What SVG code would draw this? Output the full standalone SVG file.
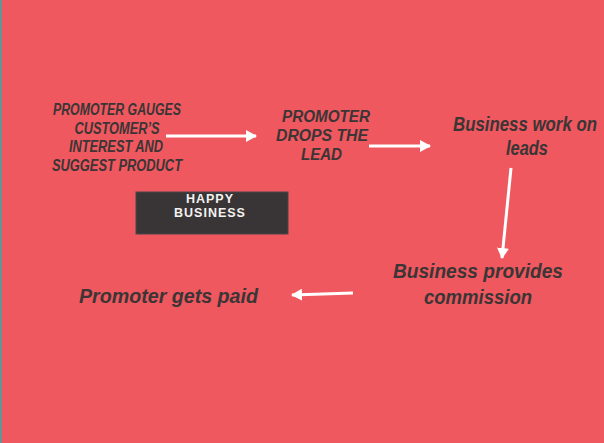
<svg xmlns="http://www.w3.org/2000/svg" width="604" height="443" viewBox="0 0 604 443">
<style>
.t{font-family:"Liberation Sans",Arial,sans-serif;font-weight:bold;font-style:italic;fill:#3b3536;text-anchor:middle}
.caps{font-size:16px}
.low{font-size:20px}
.a{stroke:#ffffff;stroke-width:3;fill:none}
.bx{font-family:"Liberation Sans",Arial,sans-serif;font-weight:bold;font-size:12.5px;fill:#f4f1f1;text-anchor:middle;letter-spacing:1px}
</style>
<defs>
<marker id="ah" markerUnits="userSpaceOnUse" markerWidth="12" markerHeight="12" refX="10" refY="6" orient="auto">
<path d="M0,0 L11,6 L0,12 Z" fill="#ffffff"/>
</marker>
</defs>
<rect x="0" y="0" width="604" height="443" fill="#ef585e"/>
<rect x="0" y="0" width="1.5" height="443" fill="#3aa6a6"/>
<g id="connectors">
<line class="a" x1="166" y1="136" x2="256" y2="136" marker-end="url(#ah)"/>
<line class="a" x1="369" y1="146" x2="430" y2="146" marker-end="url(#ah)"/>
<line class="a" x1="511" y1="168" x2="502" y2="258" marker-end="url(#ah)"/>
<line class="a" x1="353" y1="293" x2="292" y2="295" marker-end="url(#ah)"/>
</g>
<g id="n1">
<text class="t caps" x="117" y="115" textLength="128" lengthAdjust="spacingAndGlyphs">PROMOTER GAUGES</text>
<text class="t caps" x="117" y="133.5" textLength="85" lengthAdjust="spacingAndGlyphs">CUSTOMER’S</text>
<text class="t caps" x="116" y="152" textLength="94" lengthAdjust="spacingAndGlyphs">INTEREST AND</text>
<text class="t caps" x="117" y="170.5" textLength="130" lengthAdjust="spacingAndGlyphs">SUGGEST PRODUCT</text>
</g>
<g id="n2">
<text class="t caps" x="326" y="122" textLength="88" lengthAdjust="spacingAndGlyphs">PROMOTER</text>
<text class="t caps" x="322" y="141" textLength="92" lengthAdjust="spacingAndGlyphs">DROPS THE</text>
<text class="t caps" x="321.5" y="160" textLength="41" lengthAdjust="spacingAndGlyphs">LEAD</text>
</g>
<g id="n3">
<text class="t low" x="525" y="131" font-size="19" textLength="144" lengthAdjust="spacingAndGlyphs">Business work on</text>
<text class="t low" x="527" y="155" font-size="19" textLength="42" lengthAdjust="spacingAndGlyphs">leads</text>
</g>
<g id="n4">
<text class="t low" x="478" y="278" textLength="170" lengthAdjust="spacingAndGlyphs">Business provides</text>
<text class="t low" x="478" y="304" textLength="108" lengthAdjust="spacingAndGlyphs">commission</text>
</g>
<g id="n5">
<text class="t low" x="168.5" y="303" textLength="179" lengthAdjust="spacingAndGlyphs">Promoter gets paid</text>
</g>
<g id="n6">
<rect x="136" y="192" width="152" height="42" fill="#393536" stroke="#4a4546" stroke-width="1"/>
<text class="bx" x="210" y="203">HAPPY</text>
<text class="bx" x="210" y="217">BUSINESS</text>
</g>
</svg>
